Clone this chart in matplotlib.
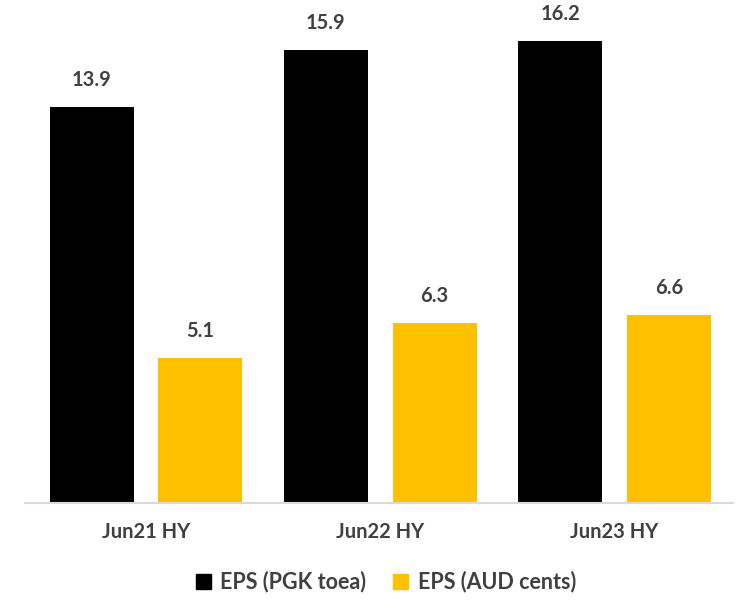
import matplotlib
matplotlib.use("Agg")
import matplotlib.pyplot as plt
import numpy as np
from matplotlib.patches import Rectangle

categories = ["Jun21 HY", "Jun22 HY", "Jun23 HY"]
eps_pgk = [13.9, 15.9, 16.2]
eps_aud = [5.1, 6.3, 6.6]
series_names = ["EPS (PGK toea)", "EPS (AUD cents)"]
colors = ["#000000", "#FFC000"]

plt.rcParams['font.family'] = ['Lato', 'DejaVu Sans']
txt = "#404040"

fig = plt.figure(figsize=(7.38, 6.0), dpi=100)
ax = fig.add_axes([25/738, 97/600, 708/738, 503/600])

x = np.arange(len(categories))
w = 0.359
off = 0.232
b1 = ax.bar(x - off, eps_pgk, w, color=colors[0], label=series_names[0])
b2 = ax.bar(x + off, eps_aud, w, color=colors[1], label=series_names[1])

for bars, vals in ((b1, eps_pgk), (b2, eps_aud)):
    for b, v in zip(bars, vals):
        ax.annotate(f"{v:.1f}", (b.get_x() + b.get_width()/2, v),
                    xytext=(0, 17), textcoords="offset pixels",
                    ha="center", va="bottom", fontsize=14.5, fontweight="bold", color=txt)

ax.set_xlim(-0.517, 2.506)
ax.set_ylim(0, 503/28.5)
ax.set_xticks(x)
ax.set_xticklabels(categories, fontsize=14.5, fontweight="bold", color=txt)
ax.tick_params(axis="x", length=0, pad=14)
ax.set_yticks([])
for s in ["top", "right", "left"]:
    ax.spines[s].set_visible(False)
ax.spines["bottom"].set_color("#D9D9D9")
ax.spines["bottom"].set_linewidth(1.5)

leg = fig.legend(handles=[Rectangle((0, 0), 1, 1, color=colors[0]),
                          Rectangle((0, 0), 1, 1, color=colors[1])],
                 labels=series_names, loc="center", bbox_to_anchor=(0.523, 1 - 582/600),
                 ncol=2, frameon=False, fontsize=15.5, handlelength=0.7, handleheight=0.7,
                 handletextpad=0.45, columnspacing=1.25)
for t in leg.get_texts():
    t.set_color(txt)
    t.set_fontweight("bold")

fig.savefig("out.png", dpi=100)
